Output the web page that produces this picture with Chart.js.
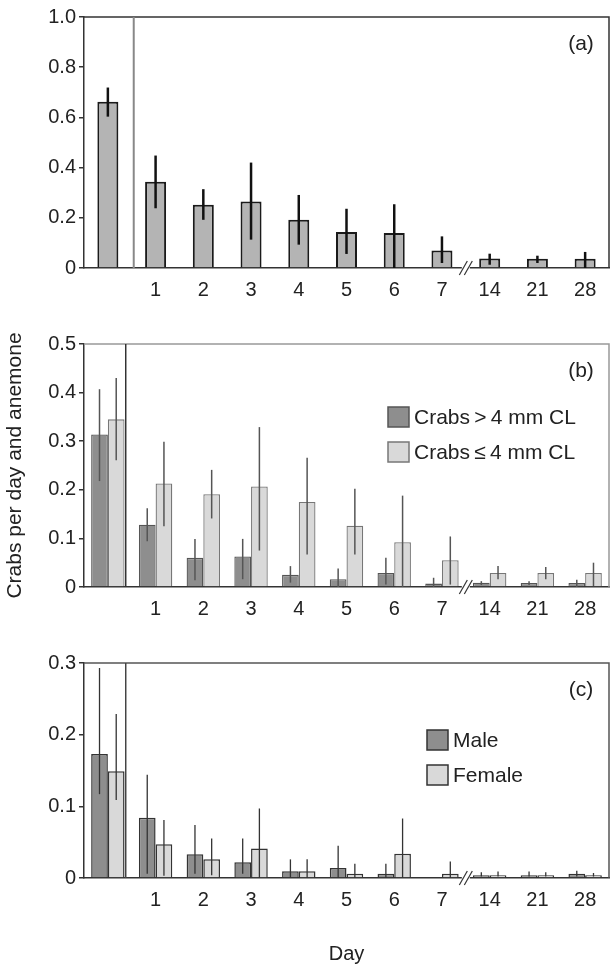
<!DOCTYPE html>
<html>
<head>
<meta charset="utf-8">
<script src="https://cdn.jsdelivr.net/npm/chart.js@4.4.0/dist/chart.umd.min.js"></script>
<style>
  body { margin: 0; background: #fff; }
  #wrap { position: relative; width: 610px; height: 967px; }
  .panel { position: absolute; left: 0; width: 610px; }
</style>
</head>
<body>
<div id="wrap">
  <div class="panel" style="top:0;height:310px"><canvas id="chartA" width="610" height="310"></canvas></div>
  <div class="panel" style="top:300px;height:325px"><canvas id="chartB" width="610" height="325"></canvas></div>
  <div class="panel" style="top:615px;height:352px"><canvas id="chartC" width="610" height="352"></canvas></div>
</div>
<script>
// x categories (first one = before the experiment, no label)
const days = ['', '1', '2', '3', '4', '5', '6', '7', '14', '21', '28'];

// (a) all crabs
const allMean = [0.662, 0.344, 0.252, 0.265, 0.192, 0.143, 0.139, 0.070, 0.038, 0.037, 0.037];
const allLow  = [0.603, 0.238, 0.192, 0.113, 0.093, 0.056, 0.000, 0.020, 0.013, 0.020, 0.000];
const allHigh = [0.719, 0.448, 0.314, 0.420, 0.291, 0.236, 0.254, 0.126, 0.057, 0.049, 0.064];

// (b) by size
const bigMean   = [0.314, 0.128, 0.060, 0.063, 0.025, 0.016, 0.029, 0.007, 0.009, 0.008, 0.008];
const bigLow    = [0.218, 0.094, 0.014, 0.016, 0.009, 0.000, 0.005, 0.000, 0.004, 0.004, 0.000];
const bigHigh   = [0.407, 0.162, 0.099, 0.099, 0.043, 0.038, 0.060, 0.019, 0.012, 0.012, 0.015];
const smallMean = [0.345, 0.213, 0.191, 0.207, 0.175, 0.126, 0.092, 0.055, 0.029, 0.029, 0.029];
const smallLow  = [0.261, 0.125, 0.141, 0.075, 0.067, 0.067, 0.000, 0.005, 0.016, 0.016, 0.002];
const smallHigh = [0.430, 0.299, 0.241, 0.329, 0.266, 0.202, 0.188, 0.104, 0.043, 0.041, 0.050];

// (c) by sex
const maleMean   = [0.173, 0.084, 0.033, 0.022, 0.0095, 0.014, 0.006, 0.000, 0.004, 0.004, 0.006];
const maleLow    = [0.117, 0.006, 0.006, 0.006, 0.000, 0.000, 0.000, 0.000, 0.002, 0.002, 0.002];
const maleHigh   = [0.293, 0.144, 0.074, 0.055, 0.026, 0.045, 0.020, 0.000, 0.008, 0.009, 0.010];
const femaleMean = [0.149, 0.047, 0.026, 0.041, 0.0095, 0.006, 0.034, 0.006, 0.004, 0.004, 0.004];
const femaleLow  = [0.109, 0.003, 0.004, 0.000, 0.000, 0.000, 0.000, 0.000, 0.002, 0.002, 0.002];
const femaleHigh = [0.229, 0.081, 0.055, 0.097, 0.026, 0.020, 0.083, 0.023, 0.009, 0.008, 0.007];

const legendB = ['Crabs\u2009>\u20094 mm CL', 'Crabs\u2009\u2264\u20094 mm CL'];
const legendC = ['Male', 'Female'];

const FONT = 'Liberation Sans, Arial, sans-serif';

// draws error bars, frame, divider, axis break, panel letter and legend
const extras = {
  id: 'extras',
  afterDatasetsDraw(chart, args, opts) {
    const ctx = chart.ctx, y = chart.scales.y;
    ctx.save();
    ctx.lineWidth = opts.errWidth;
    ctx.strokeStyle = opts.errColor;
    opts.errors.forEach((e, i) => {
      const meta = chart.getDatasetMeta(i);
      meta.data.forEach((bar, j) => {
        if (e.high[j] <= e.low[j]) return;
        ctx.beginPath();
        ctx.moveTo(bar.x, y.getPixelForValue(e.low[j]));
        ctx.lineTo(bar.x, y.getPixelForValue(e.high[j]));
        ctx.stroke();
      });
    });
    ctx.restore();
  },
  afterDraw(chart, args, opts) {
    const ctx = chart.ctx, a = chart.chartArea, x = chart.scales.x;
    ctx.save();
    // top and right frame
    ctx.strokeStyle = opts.frameColor;
    ctx.lineWidth = opts.frameWidth;
    ctx.beginPath();
    ctx.moveTo(a.left, a.top);
    ctx.lineTo(a.right, a.top);
    ctx.lineTo(a.right, a.bottom);
    ctx.stroke();
    // divider after the first group
    const dx = (x.getPixelForValue(0) + x.getPixelForValue(1)) / 2 + opts.divShift;
    ctx.strokeStyle = opts.divColor;
    ctx.lineWidth = opts.divWidth;
    ctx.beginPath();
    ctx.moveTo(dx, a.top);
    ctx.lineTo(dx, a.bottom);
    ctx.stroke();
    // axis break between day 7 and day 14
    const bx = (x.getPixelForValue(7) + x.getPixelForValue(8)) / 2;
    ctx.fillStyle = '#fff';
    ctx.fillRect(bx - 4, a.bottom - 2, 8, 4);
    ctx.strokeStyle = '#333';
    ctx.lineWidth = 1.2;
    [-2.5, 2.5].forEach(o => {
      ctx.beginPath();
      ctx.moveTo(bx + o - 4, a.bottom + 7);
      ctx.lineTo(bx + o + 4, a.bottom - 7);
      ctx.stroke();
    });
    // panel letter
    ctx.fillStyle = '#222';
    ctx.font = '21px ' + FONT;
    ctx.textAlign = 'center';
    ctx.textBaseline = 'middle';
    ctx.fillText(opts.letter, a.right - 28, a.top + 27);
    // legend
    if (opts.legend) {
      const L = opts.legend;
      chart.data.datasets.forEach((ds, i) => {
        const ty = a.top + L.y + i * L.gap;
        ctx.fillStyle = ds.backgroundColor;
        ctx.fillRect(L.x, ty, 21, 20);
        ctx.strokeStyle = ds.borderColor;
        ctx.lineWidth = 1.5;
        ctx.strokeRect(L.x, ty, 21, 20);
        ctx.fillStyle = '#222';
        ctx.textAlign = 'left';
        ctx.fillText(L.labels[i], L.x + 26, ty + 11);
      });
    }
    ctx.restore();
  }
};

function makeChart(id, cfg) {
  const canvas = document.getElementById(id);
  const H = canvas.height;
  return new Chart(canvas, {
    type: 'bar',
    data: { labels: days, datasets: cfg.datasets },
    options: {
      responsive: false,
      animation: false,
      devicePixelRatio: 1,
      layout: { padding: { top: cfg.top, right: 1, left: 0, bottom: 0 } },
      plugins: {
        legend: { display: false },
        tooltip: { enabled: false },
        extras: cfg.extras
      },
      scales: {
        x: {
          offset: true,
          grid: { display: false },
          border: { display: true, color: '#333', width: 1.5 },
          ticks: { color: '#222', font: { family: FONT, size: 20 }, padding: 2, maxRotation: 0, autoSkip: false },
          title: cfg.xTitle ? { display: true, text: cfg.xTitle, color: '#222', font: { family: FONT, size: 20 }, padding: { top: 0, bottom: 1 } } : { display: false },
          afterFit(s) { s.height = H - cfg.bottom; }
        },
        y: {
          min: 0,
          max: cfg.max,
          grid: { drawOnChartArea: false, drawTicks: true, tickLength: 5, color: '#333', lineWidth: 1.5 },
          border: { display: true, color: '#333', width: 1.5 },
          ticks: {
            stepSize: cfg.step,
            color: '#222',
            font: { family: FONT, size: 20 },
            padding: 3,
            callback: v => (v === 0 ? '0' : v.toFixed(1))
          },
          title: cfg.yTitle ? { display: true, text: cfg.yTitle, color: '#222', font: { family: FONT, size: 21 }, padding: { top: 3, bottom: 0 } } : { display: false },
          afterFit(s) { s.width = 84; }
        }
      }
    },
    plugins: [extras]
  });
}

makeChart('chartA', {
  top: 17, bottom: 268, max: 1.0, step: 0.2,
  datasets: [{
    data: allMean, backgroundColor: '#b4b4b4', borderColor: '#1a1a1a', borderWidth: 2,
    borderSkipped: 'bottom', categoryPercentage: 0.44, barPercentage: 1
  }],
  extras: {
    errors: [{ low: allLow, high: allHigh }], errWidth: 2.5, errColor: '#111',
    frameColor: '#333', frameWidth: 1.5, divColor: '#888', divWidth: 2, divShift: 2,
    letter: '(a)'
  }
});

makeChart('chartB', {
  top: 44, bottom: 287, max: 0.5, step: 0.1, yTitle: 'Crabs per day and anemone',
  datasets: [
    { data: bigMean, backgroundColor: '#8e8e8e', borderColor: '#555', borderWidth: 1.3,
      borderSkipped: 'bottom', categoryPercentage: 0.7, barPercentage: 1 },
    { data: smallMean, backgroundColor: '#d9d9d9', borderColor: '#777', borderWidth: 1.3,
      borderSkipped: 'bottom', categoryPercentage: 0.7, barPercentage: 1 }
  ],
  extras: {
    errors: [{ low: bigLow, high: bigHigh }, { low: smallLow, high: smallHigh }], errWidth: 1.5, errColor: '#555',
    frameColor: '#999', frameWidth: 1.5, divColor: '#333', divWidth: 1.5, divShift: -6,
    letter: '(b)', legend: { x: 388, y: 63, gap: 35, labels: legendB }
  }
});

makeChart('chartC', {
  top: 48, bottom: 263, max: 0.3, step: 0.1, xTitle: 'Day',
  datasets: [
    { data: maleMean, backgroundColor: '#8e8e8e', borderColor: '#333', borderWidth: 1.5,
      borderSkipped: 'bottom', categoryPercentage: 0.7, barPercentage: 1 },
    { data: femaleMean, backgroundColor: '#d9d9d9', borderColor: '#333', borderWidth: 1.5,
      borderSkipped: 'bottom', categoryPercentage: 0.7, barPercentage: 1 }
  ],
  extras: {
    errors: [{ low: maleLow, high: maleHigh }, { low: femaleLow, high: femaleHigh }], errWidth: 1.3, errColor: '#333',
    frameColor: '#555', frameWidth: 1.5, divColor: '#444', divWidth: 1.5, divShift: -6,
    letter: '(c)', legend: { x: 427, y: 67, gap: 35, labels: legendC }
  }
});
</script>
</body>
</html>
